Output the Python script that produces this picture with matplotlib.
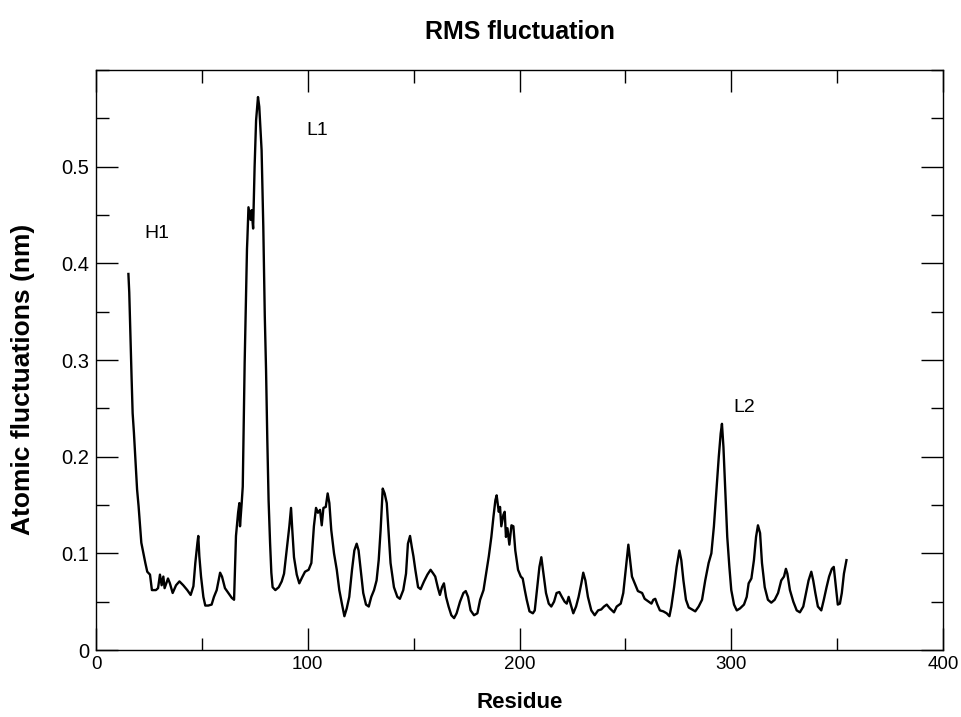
import matplotlib
matplotlib.use("Agg")
import matplotlib.pyplot as plt
from matplotlib.ticker import MultipleLocator

plt.rcParams['font.family'] = ['Liberation Sans', 'DejaVu Sans']

# values (residue, rmsf in nm)
residue = [15.3, 15.7, 16.2, 16.8, 17.3, 17.9, 18.6, 19.4, 20.1, 20.8, 21.4, 22.4, 23.3, 24.2, 25.5,
           26.4, 28.3, 29.3, 30.2, 31.0, 31.8, 32.4, 34.0, 34.9, 36.2, 37.8, 39.4, 41.2, 43.1, 44.7,
           46.0, 46.9, 47.9, 48.3, 48.8, 49.6, 50.7, 51.6, 53.0, 54.6, 55.7, 57.0, 58.6, 59.5, 60.9,
           62.5, 64.1, 65.2, 65.6, 66.1, 67.1, 67.7, 68.0, 68.8, 69.3, 69.7, 70.2, 70.8, 71.3, 71.5,
           72.0, 73.0, 73.5, 74.2, 74.9, 75.6, 76.5, 77.1, 77.6, 78.2, 79.0, 79.7, 80.3, 80.9, 81.5,
           82.2, 82.8, 83.4, 84.7, 86.3, 87.7, 88.8, 90.0, 91.3, 92.1, 92.7, 93.5, 94.8, 96.0, 97.3,
           98.7, 100.4, 101.7, 102.9, 103.9, 104.8, 105.8, 106.6, 107.4, 108.5, 109.4, 110.2, 111.1,
           112.4, 113.7, 114.9, 116.2, 117.3, 118.4, 119.6, 120.9, 122.0, 123.1, 124.0, 125.0, 126.2,
           127.5, 128.8, 130.0, 131.3, 132.5, 133.5, 134.4, 135.4, 136.3, 137.3, 138.2, 139.1, 140.7,
           142.3, 143.5, 145.1, 146.4, 147.3, 148.3, 149.1, 149.9, 150.8, 152.1, 153.3, 154.9, 156.5,
           158.0, 159.3, 160.2, 161.5, 162.4, 163.4, 164.3, 165.3, 166.5, 167.8, 169.1, 170.3, 171.9,
           173.5, 174.6, 175.7, 176.9, 178.5, 180.1, 181.4, 183.0, 184.2, 185.5, 186.7, 187.7, 188.6,
           189.2, 190.2, 190.8, 191.4, 192.4, 193.0, 193.6, 194.3, 195.2, 196.2, 197.1, 198.0, 199.3,
           200.6, 201.5, 202.5, 203.4, 204.7, 206.3, 207.2, 208.4, 209.4, 210.3, 211.3, 212.5, 213.8,
           215.0, 216.3, 217.5, 218.8, 220.0, 221.3, 222.3, 223.2, 224.2, 225.4, 226.7, 227.9, 229.2,
           230.1, 231.1, 232.3, 233.9, 235.5, 237.1, 238.6, 239.9, 241.2, 242.7, 244.6, 245.9, 247.8,
           249.0, 250.3, 251.4, 252.2, 253.1, 254.4, 255.9, 257.9, 259.1, 261.0, 262.3, 263.2, 264.1,
           265.1, 266.3, 267.9, 269.5, 270.8, 271.7, 273.0, 274.2, 275.5, 276.4, 277.4, 278.6, 279.9,
           281.4, 283.0, 284.6, 286.2, 287.7, 289.3, 290.6, 291.8, 293.1, 294.1, 295.0, 295.6, 296.3,
           296.9, 297.5, 298.1, 299.1, 300.0, 301.3, 302.6, 304.1, 306.0, 307.3, 308.2, 309.5, 310.7,
           311.7, 312.6, 313.6, 314.5, 315.8, 317.3, 318.9, 320.5, 322.1, 323.6, 324.9, 325.8, 326.5,
           327.7, 329.3, 330.9, 332.4, 334.0, 335.3, 336.5, 337.8, 338.7, 339.7, 340.9, 342.5, 343.7,
           345.0, 346.2, 347.5, 348.4, 349.4, 350.3, 351.3, 352.2, 353.2, 354.4]
rmsf = [0.389, 0.370, 0.328, 0.282, 0.245, 0.225, 0.197, 0.166, 0.149, 0.128, 0.111, 0.100, 0.090, 0.081, 0.078,
        0.062, 0.062, 0.064, 0.078, 0.067, 0.076, 0.064, 0.074, 0.069, 0.059, 0.067, 0.071, 0.067, 0.062, 0.057,
        0.066, 0.090, 0.111, 0.118, 0.097, 0.076, 0.055, 0.046, 0.046, 0.047, 0.055, 0.062, 0.080, 0.076, 0.064,
        0.059, 0.054, 0.052, 0.080, 0.118, 0.142, 0.152, 0.128, 0.152, 0.169, 0.225, 0.297, 0.363, 0.415, 0.426,
        0.458, 0.445, 0.455, 0.436, 0.500, 0.548, 0.572, 0.562, 0.541, 0.517, 0.438, 0.346, 0.290, 0.217, 0.155,
        0.111, 0.080, 0.065, 0.062, 0.065, 0.071, 0.079, 0.103, 0.128, 0.147, 0.124, 0.096, 0.078, 0.069, 0.075,
        0.081, 0.083, 0.090, 0.128, 0.147, 0.142, 0.145, 0.129, 0.147, 0.148, 0.162, 0.152, 0.124,
        0.100, 0.083, 0.062, 0.047, 0.035, 0.043, 0.055, 0.083, 0.103, 0.110, 0.103, 0.083, 0.059,
        0.047, 0.045, 0.055, 0.062, 0.072, 0.093, 0.124, 0.167, 0.162, 0.152, 0.121, 0.090, 0.065,
        0.055, 0.053, 0.062, 0.079, 0.110, 0.118, 0.107, 0.097, 0.083, 0.065, 0.063, 0.071, 0.078,
        0.083, 0.079, 0.076, 0.064, 0.057, 0.065, 0.069, 0.055, 0.045, 0.036, 0.033, 0.038, 0.050,
        0.059, 0.061, 0.055, 0.041, 0.036, 0.038, 0.052, 0.062, 0.079, 0.097, 0.117, 0.138, 0.155,
        0.160, 0.143, 0.148, 0.128, 0.140, 0.143, 0.117, 0.126, 0.109, 0.129, 0.128, 0.103, 0.083,
        0.076, 0.074, 0.062, 0.052, 0.040, 0.038, 0.041, 0.065, 0.086, 0.096, 0.079, 0.059, 0.048,
        0.045, 0.050, 0.059, 0.060, 0.055, 0.050, 0.048, 0.055, 0.047, 0.038, 0.045, 0.055, 0.069,
        0.080, 0.072, 0.055, 0.041, 0.036, 0.041, 0.042, 0.045, 0.047, 0.043, 0.039, 0.045, 0.048,
        0.059, 0.086, 0.109, 0.093, 0.076, 0.069, 0.061, 0.059, 0.053, 0.050, 0.048, 0.052, 0.053,
        0.047, 0.041, 0.040, 0.038, 0.035, 0.045, 0.065, 0.086, 0.103, 0.093, 0.072, 0.052, 0.044,
        0.042, 0.040, 0.045, 0.052, 0.072, 0.090, 0.100, 0.128, 0.169, 0.200, 0.224, 0.234, 0.210,
        0.179, 0.148, 0.117, 0.086, 0.062, 0.047, 0.041, 0.043, 0.047, 0.055, 0.069, 0.074, 0.093,
        0.117, 0.129, 0.121, 0.090, 0.065, 0.052, 0.049, 0.052, 0.059, 0.072, 0.076, 0.084, 0.079,
        0.062, 0.050, 0.041, 0.039, 0.045, 0.059, 0.072, 0.081, 0.072, 0.059, 0.045, 0.041, 0.052,
        0.065, 0.076, 0.084, 0.086, 0.065, 0.047, 0.048, 0.059, 0.079, 0.093]

labels = ["H1", "L1", "L2"]
label_x = [23, 99.5, 301]
label_y = [0.431, 0.537, 0.251]

fig = plt.figure(figsize=(9.61, 7.17), dpi=100)
ax = fig.add_axes([0.0999, 0.0934, 0.8814, 0.809])

ax.plot(residue, rmsf, color="black", lw=1.7)

for lab, lx, ly in zip(labels, label_x, label_y):
    ax.text(lx, ly, lab, fontsize=14, va="center", ha="left")

ax.set_xlim(0, 400)
ax.set_ylim(0, 0.6)
ax.xaxis.set_major_locator(MultipleLocator(100))
ax.xaxis.set_minor_locator(MultipleLocator(50))
ax.yaxis.set_minor_locator(MultipleLocator(0.05))
ax.set_yticks([0, 0.1, 0.2, 0.3, 0.4, 0.5])
ax.set_yticklabels(["0", "0.1", "0.2", "0.3", "0.4", "0.5"])
ax.tick_params(which="both", direction="in", top=True, right=True, width=1)
ax.tick_params(which="major", length=16)
ax.tick_params(which="minor", length=9)
ax.tick_params(axis="y", labelsize=14.5, pad=5)
ax.tick_params(axis="x", labelsize=13.5, pad=4)
for sp in ax.spines.values():
    sp.set_linewidth(1)

ax.set_xlabel("Residue", fontsize=16, fontweight="bold", labelpad=14)
ax.set_ylabel("Atomic fluctuations (nm)", fontsize=19, fontweight="bold")
ax.yaxis.set_label_coords(-0.072, 0.466)
ax.set_title("RMS fluctuation", fontsize=18, fontweight="bold", pad=22)

fig.savefig("out.png", dpi=100)
